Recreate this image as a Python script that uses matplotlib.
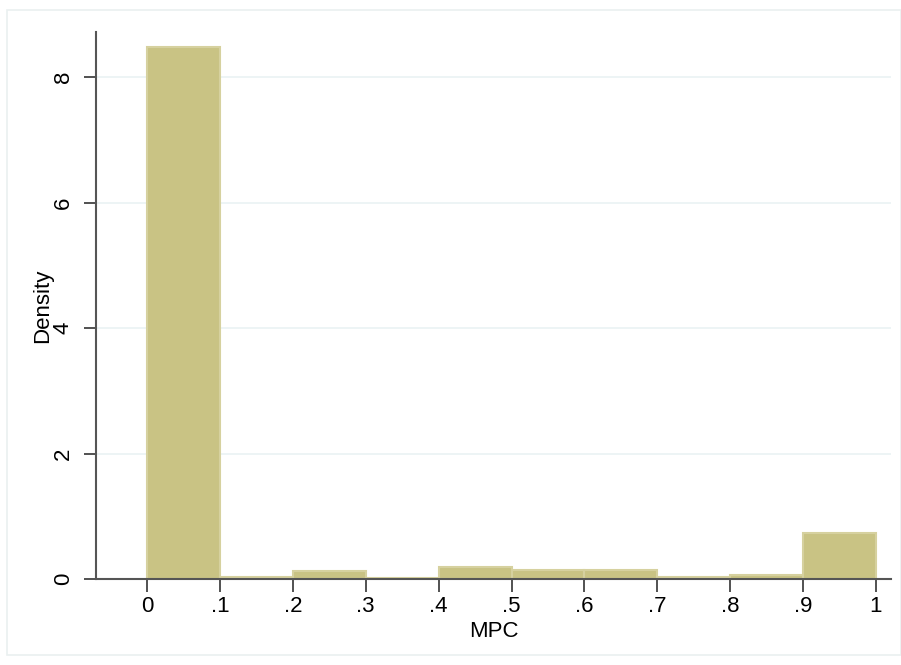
import matplotlib
matplotlib.use("Agg")
import matplotlib.pyplot as plt
from matplotlib.patches import Rectangle

# histogram of MPC, bin width .1
bin_left = [0.0, 0.1, 0.2, 0.3, 0.4, 0.5, 0.6, 0.7, 0.8, 0.9]
density = [8.48, 0.025, 0.12, 0.015, 0.186, 0.148, 0.15, 0.025, 0.06, 0.73]
x_ticks = [0.0, 0.1, 0.2, 0.3, 0.4, 0.5, 0.6, 0.7, 0.8, 0.9, 1.0]
x_labels = ["0", ".1", ".2", ".3", ".4", ".5", ".6", ".7", ".8", ".9", "1"]
y_ticks = [0, 2, 4, 6, 8]
y_labels = ["0", "2", "4", "6", "8"]

plt.rcParams["font.family"] = ["Liberation Sans", "DejaVu Sans"]

W, H = 901, 665
fig = plt.figure(figsize=(W / 100, H / 100), dpi=100)
fig.patches.append(Rectangle((7 / W, 10 / H), (W - 7) / W, (H - 20) / H,
                             transform=fig.transFigure, fill=False,
                             edgecolor="#EAF0F0", linewidth=1.2))

ax = fig.add_axes([96 / W, (H - 579) / H, (891 - 96) / W, (579 - 32) / H])
ax.set_facecolor("white")

for y in y_ticks[1:]:
    ax.axhline(y, color="#EAF2F3", linewidth=1.2, zorder=0)

ax.bar(bin_left, density, width=0.1, align="edge", color="#C9C384",
       edgecolor="#D6D19F", linewidth=1.5, zorder=2)

ax.set_xlim(-0.07, 1.0206)
ax.set_ylim(0, 8.72)

ax.set_xticks(x_ticks)
ax.set_xticklabels(x_labels)
ax.set_yticks(y_ticks)
ax.set_yticklabels(y_labels, rotation=90, va="center")

ax.tick_params(axis="both", direction="out", length=9, width=1.2,
               color="#333333", labelsize=16, labelcolor="black")
ax.tick_params(axis="x", pad=3)
ax.tick_params(axis="y", pad=7)

for side in ["top", "right"]:
    ax.spines[side].set_visible(False)
for side in ["left", "bottom"]:
    ax.spines[side].set_color("#555555")
    ax.spines[side].set_linewidth(1.5)

ax.set_xlabel("MPC", fontsize=16, labelpad=3)
ax.set_ylabel("Density", fontsize=16, labelpad=0)

fig.savefig("out.png", dpi=100)
